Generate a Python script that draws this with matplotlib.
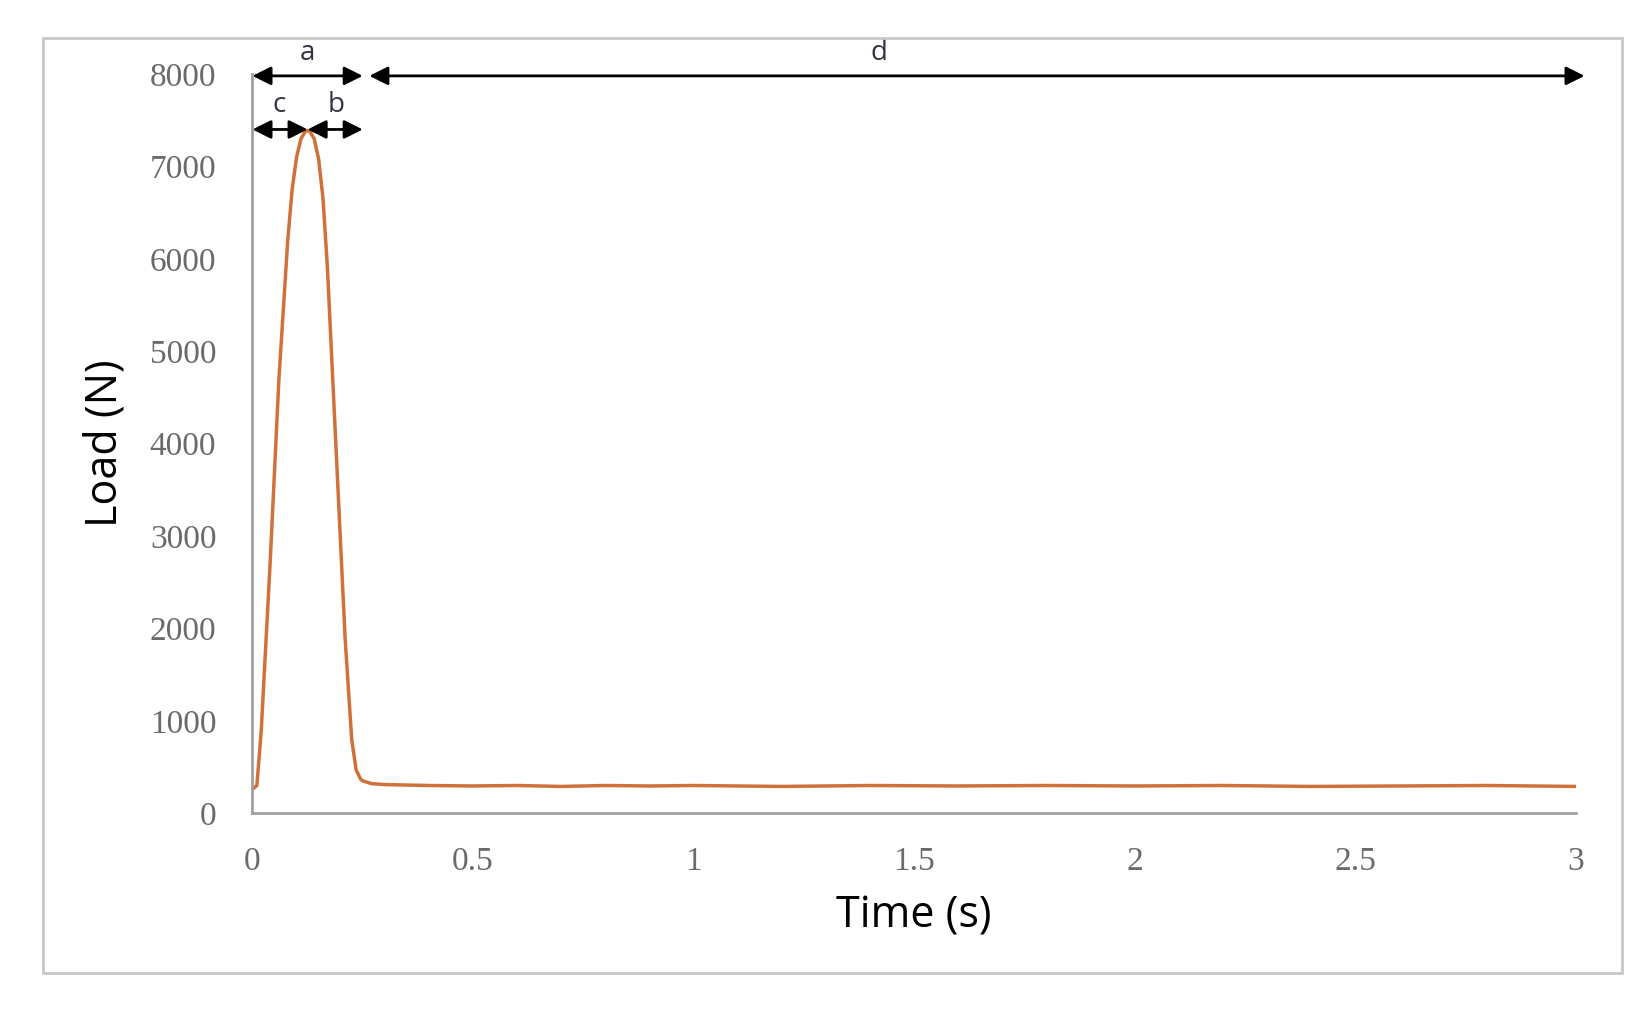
import matplotlib.pyplot as plt
from matplotlib.patches import Rectangle

time_s = [0.0, 0.01, 0.02, 0.04, 0.06, 0.08, 0.09, 0.10, 0.11, 0.12, 0.125, 0.13, 0.14, 0.15, 0.16, 0.17,
          0.19, 0.21, 0.225, 0.235, 0.245, 0.25, 0.27, 0.30, 0.40, 0.50, 0.60, 0.70, 0.80, 0.90, 1.00, 1.20,
          1.40, 1.60, 1.80, 2.00, 2.20, 2.40, 2.60, 2.80, 3.00]
load_n = [260, 300, 900, 2700, 4700, 6200, 6750, 7100, 7300, 7380, 7390, 7380, 7300, 7080, 6650, 5900,
          3900, 1900, 800, 470, 370, 350, 320, 310, 300, 295, 300, 290, 300, 295, 300, 290,
          300, 295, 300, 295, 300, 290, 295, 300, 290]

x_ticks = [0, 0.5, 1, 1.5, 2, 2.5, 3]
x_labels = ["0", "0.5", "1", "1.5", "2", "2.5", "3"]
y_ticks = [0, 1000, 2000, 3000, 4000, 5000, 6000, 7000, 8000]

fig = plt.figure(figsize=(16.5, 10.14), dpi=100)
fig.patches.append(Rectangle((0.026, 0.04), 0.957, 0.923, transform=fig.transFigure,
                             fill=False, edgecolor="#c8c8c8", linewidth=2))
ax = fig.add_axes([0.153, 0.198, 0.802, 0.729])
ax.plot(time_s, load_n, color="#d0703a", linewidth=2.5)
ax.set_xlim(0, 3)
ax.set_ylim(0, 8000)
for s in ["top", "right"]:
    ax.spines[s].set_visible(False)
for s in ["left", "bottom"]:
    ax.spines[s].set_color("#a0a0a0")
    ax.spines[s].set_linewidth(2)
ax.tick_params(axis="x", length=0, pad=24, labelsize=24, labelcolor="#6a6a6a")
ax.tick_params(axis="y", length=0, pad=26, labelsize=24, labelcolor="#6a6a6a")
ax.set_xticks(x_ticks, x_labels, fontfamily="Liberation Serif")
ax.set_yticks(y_ticks, [str(v) for v in y_ticks], fontfamily="Liberation Serif")
ax.set_xlabel("Time (s)", fontsize=31, fontfamily="Open Sans", labelpad=12)
ax.set_ylabel("Load (N)", fontsize=31, fontfamily="Open Sans", labelpad=16)

arr = dict(arrowstyle="<|-|>", color="black", lw=2, mutation_scale=28, shrinkA=0, shrinkB=0)
ax.annotate("", xy=(0, 7980), xytext=(0.25, 7980), arrowprops=arr, annotation_clip=False)
ax.annotate("", xy=(0.265, 7980), xytext=(3.02, 7980), arrowprops=arr, annotation_clip=False)
ax.annotate("", xy=(0, 7400), xytext=(0.125, 7400), arrowprops=arr, annotation_clip=False)
ax.annotate("", xy=(0.125, 7400), xytext=(0.25, 7400), arrowprops=arr, annotation_clip=False)
lab = dict(fontsize=20, ha="center", va="center", fontfamily="Open Sans", color="#333344")
ax.text(0.125, 8230, "a", **lab)
ax.text(1.42, 8230, "d", **lab)
ax.text(0.06, 7660, "c", **lab)
ax.text(0.19, 7660, "b", **lab)

fig.savefig("out.png")
